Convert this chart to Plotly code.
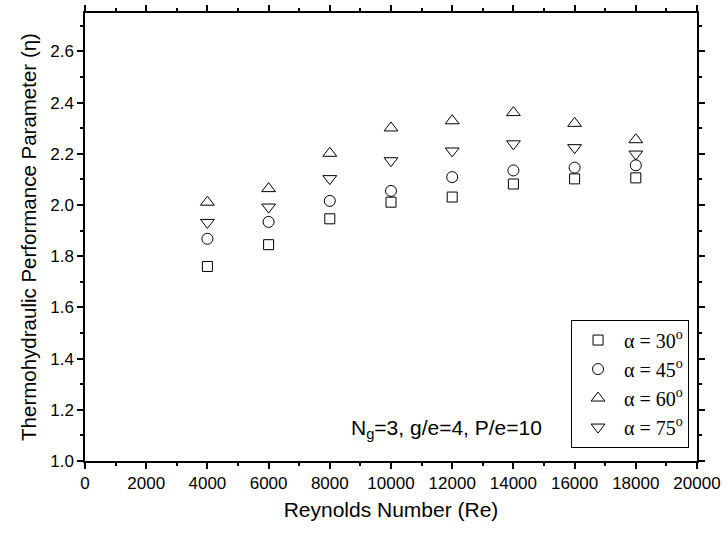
import plotly.graph_objects as go

re_values = [4000, 6000, 8000, 10000, 12000, 14000, 16000, 18000]
eta_30 = [1.76, 1.845, 1.946, 2.011, 2.031, 2.082, 2.102, 2.106]
eta_45 = [1.868, 1.934, 2.016, 2.055, 2.109, 2.135, 2.146, 2.155]
eta_60 = [2.011, 2.064, 2.202, 2.301, 2.329, 2.361, 2.319, 2.255]
eta_75 = [1.932, 1.992, 2.103, 2.173, 2.211, 2.239, 2.224, 2.199]
series_names = ["α = 30<sup>o</sup>", "α = 45<sup>o</sup>", "α = 60<sup>o</sup>", "α = 75<sup>o</sup>"]
x_ticks = list(range(0, 20001, 2000))
y_ticks = [1.0, 1.2, 1.4, 1.6, 1.8, 2.0, 2.2, 2.4, 2.6]

symbols = ["square-open", "circle-open", "triangle-up-open", "triangle-down-open"]
sizes = [10, 11, 12, 12]

fig = go.Figure()
for name, vals, sym, sz in zip(series_names, [eta_30, eta_45, eta_60, eta_75], symbols, sizes):
    fig.add_trace(go.Scatter(
        x=re_values, y=vals, mode="markers", name=name,
        marker=dict(symbol=sym, size=sz, color="black", line=dict(color="black", width=1)),
    ))

axis_common = dict(
    showgrid=False, zeroline=False, showline=True, linecolor="black", linewidth=1.5,
    mirror="ticks", ticks="outside", ticklen=6, tickwidth=1.5, tickcolor="black",
    tickfont=dict(family="Liberation Sans, Arial", size=17, color="black"),
)

fig.update_xaxes(
    range=[0, 20000], tickvals=x_ticks, ticktext=[str(v) for v in x_ticks],
    minor=dict(dtick=1000, ticks="outside", ticklen=3, tickwidth=1.5, tickcolor="black", showgrid=False),
    title=dict(text="Reynolds Number (Re)", font=dict(family="Liberation Sans, Arial", size=21, color="black"), standoff=10),
    **axis_common,
)
fig.update_yaxes(
    range=[1.0, 2.75], tickvals=y_ticks, ticktext=[f"{v:.1f}" for v in y_ticks],
    minor=dict(dtick=0.1, tick0=1.0, ticks="outside", ticklen=3, tickwidth=1.5, tickcolor="black", showgrid=False),
    title=dict(text="Thermohydraulic Performance Parameter (η)", font=dict(family="Liberation Sans, Arial", size=20.5, color="black"), standoff=8),
    **axis_common,
)

fig.add_annotation(
    x=11800, y=1.125, xref="x", yref="y", showarrow=False,
    text="N<sub>g</sub>=3, g/e=4, P/e=10",
    font=dict(family="Liberation Sans, Arial", size=21, color="black"),
)

fig.update_layout(
    width=726, height=535,
    margin=dict(l=85, r=28, t=5, b=74),
    plot_bgcolor="white", paper_bgcolor="white",
    showlegend=True,
    legend=dict(
        x=0.987, xanchor="right", y=0.03, yanchor="bottom",
        bordercolor="black", borderwidth=1, bgcolor="white",
        font=dict(family="Liberation Serif, Times New Roman", size=20, color="black"),
        itemwidth=42,
    ),
)

fig.write_html("out.html")
